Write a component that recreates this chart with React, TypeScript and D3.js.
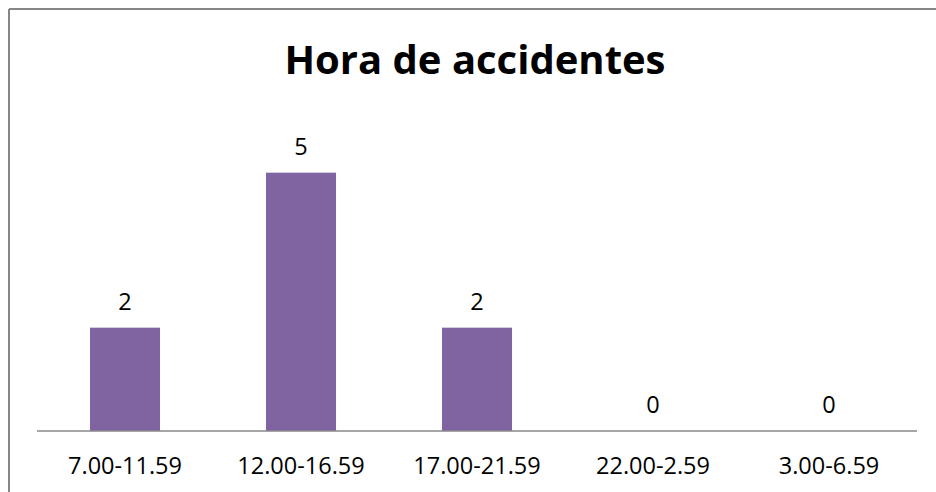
import React from "react";
import * as d3 from "d3";

const categories: string[] = ["7.00-11.59", "12.00-16.59", "17.00-21.59", "22.00-2.59", "3.00-6.59"];
const values: number[] = [2, 5, 2, 0, 0];
const title = "Hora de accidentes";

const W = 936;
const H = 492;

export default function App() {
  const x = d3
    .scaleBand<string>()
    .domain(categories)
    .range([37, 917])
    .paddingInner(0.602)
    .paddingOuter(0.301);
  const y = d3.scaleLinear().domain([0, 6]).range([431, 121]);
  const font = "'Open Sans', sans-serif";

  return (
    <svg
      width={W}
      height={H}
      style={{ position: "absolute", left: 0, top: 0, background: "#fff" }}
    >
      <rect x={0} y={0} width={W} height={H} fill="#fff" />
      {/* frame */}
      <line x1={9} y1={9} x2={W + 5} y2={9} stroke="#868686" strokeWidth={2} />
      <line x1={9} y1={9} x2={9} y2={H + 5} stroke="#868686" strokeWidth={2} />
      {/* title */}
      <text
        x={475}
        y={74}
        textAnchor="middle"
        fontFamily={font}
        fontWeight="bold"
        fontSize={40}
        fill="#000"
      >
        {title}
      </text>
      {/* bars */}
      {categories.map((c, i) => (
        <rect
          key={c}
          x={x(c)}
          y={y(values[i])}
          width={x.bandwidth()}
          height={y(0) - y(values[i])}
          fill="#8064A2"
        />
      ))}
      {/* axis */}
      <line x1={37} y1={431} x2={917} y2={431} stroke="#898989" strokeWidth={1.5} />
      {/* data labels */}
      {categories.map((c, i) => (
        <text
          key={"v" + c}
          x={(x(c) as number) + x.bandwidth() / 2}
          y={y(values[i]) - 18}
          textAnchor="middle"
          fontFamily={font}
          fontSize={23.5}
          fill="#000"
        >
          {values[i]}
        </text>
      ))}
      {/* category labels */}
      {categories.map((c) => (
        <text
          key={"c" + c}
          x={(x(c) as number) + x.bandwidth() / 2}
          y={474}
          textAnchor="middle"
          fontFamily={font}
          fontSize={23.5}
          fill="#000"
        >
          {c}
        </text>
      ))}
    </svg>
  );
}
